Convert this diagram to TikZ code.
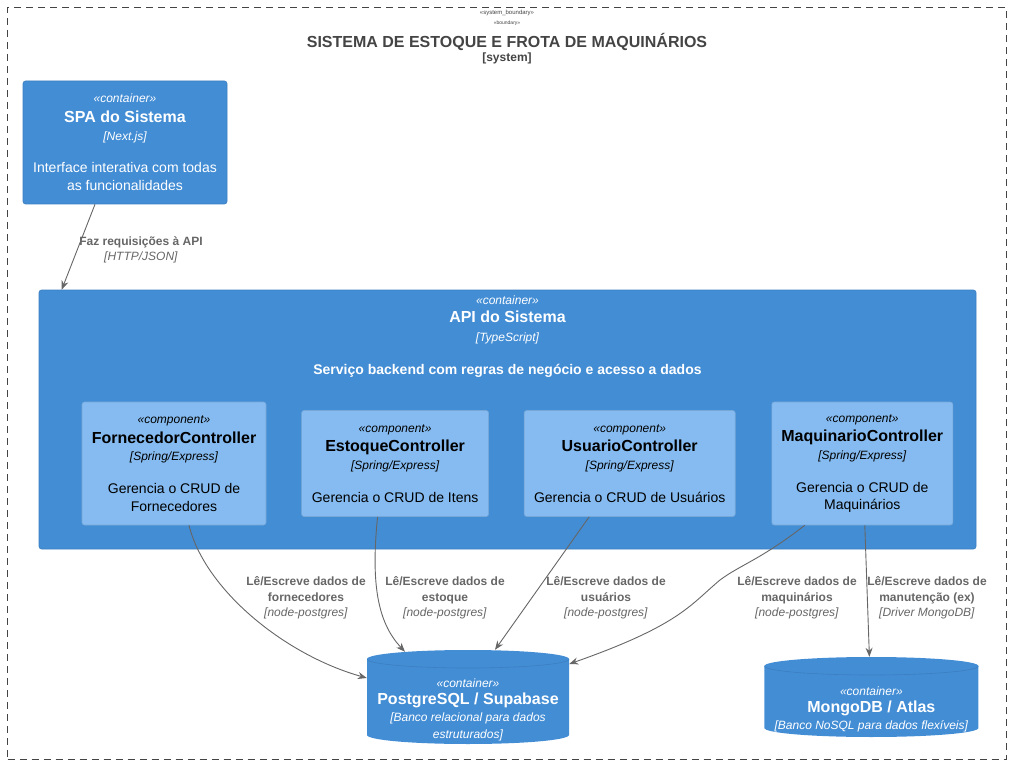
\documentclass[tikz,border=0pt]{standalone}
\usepackage{fontspec}
\setmainfont{Liberation Sans}
\usetikzlibrary{positioning,arrows.meta,calc}

\definecolor{containerblue}{HTML}{438DD5}
\definecolor{containerborder}{HTML}{3C7FC0}
\definecolor{componentblue}{HTML}{85BBF0}
\definecolor{componentborder}{HTML}{78A8D8}
\definecolor{boundarygray}{HTML}{444444}
\definecolor{relgray}{HTML}{666666}

\newcommand{\fs}[2]{\fontsize{#1}{#2}\selectfont}
\newcommand{\stereo}[1]{{\fs{12}{14}\itshape «#1»}}
\newcommand{\techof}[1]{{\fs{12}{14}\itshape [#1]}}
\newcommand{\nameof}[1]{{\fs{16}{18}\bfseries #1}}

\tikzset{
  boundary/.style={rectangle, draw=boundarygray, dash pattern=on 7pt off 5pt,
    line width=0.9pt, minimum width=999, minimum height=751.5},
  systext/.style={text=boundarygray, align=center, font=\fs{12}{10}},
  container/.style={rectangle, rounded corners=2.5pt, fill=containerblue,
    draw=containerborder, line width=0.6pt, text=white, align=center, font=\fs{14}{18}},
  component/.style={rectangle, rounded corners=2.5pt, fill=componentblue,
    draw=componentborder, line width=0.6pt, text=black, align=center, font=\fs{14}{17.5}},
  database/.style={rectangle, inner sep=0pt, path picture={
    \fill[containerblue] let \p1=(path picture bounding box.north west),
      \p2=(path picture bounding box.south east), \n1={(\x2-\x1)/2} in
      (\x1,\y1-9pt) -- (\x1,\y2+9pt)
      arc[start angle=180, end angle=360, x radius=\n1, y radius=9pt]
      -- (\x2,\y1-9pt)
      arc[start angle=0, end angle=180, x radius=\n1, y radius=9pt] -- cycle;
    \draw[containerborder, line width=0.6pt] let \p1=(path picture bounding box.north west),
      \p2=(path picture bounding box.south east), \n1={(\x2-\x1)/2} in
      (\x1,\y1-9pt) arc[start angle=180, end angle=360, x radius=\n1, y radius=9pt];
  }},
  dbtext/.style={text=white, align=center, font=\fs{12}{17}},
  rel/.style={draw=relgray, line width=0.9pt, -{Stealth[length=9pt,width=7pt]}},
  rellabel/.style={text=relgray, align=center, font=\fs{12}{15.5}},
}

\begin{document}
\begin{tikzpicture}[x=1pt, y=-1pt]
  \useasboundingbox (0,0) rectangle (1013,765);

  % system boundary
  \node[boundary] (sys) at (507,383.25) {};
  \node[systext, anchor=north] (systitle) at (sys.north)
    {{\fs{6}{7}«system\_boundary»}\\ {\fs{5}{6}«boundary»}\\[6pt]
     {\fs{16}{18}\bfseries SISTEMA DE ESTOQUE E FROTA DE MAQUINÁRIOS}\\[2pt]
     {\bfseries [system]}};

  % containers
  \node[container, minimum width=204, minimum height=123] (spa) at (125,142.5)
    {\stereo{container}\\[2pt] \nameof{SPA do Sistema}\\ \techof{Next.js}\\[14pt]
     Interface interativa com todas\\ as funcionalidades};
  \node[container, minimum width=937, minimum height=259] (api) at (507.5,419.5) {};
  \node[container, draw=none, fill=none, anchor=north, font=\fs{14}{18.5}] (apititle)
    at ([yshift=-2]api.north)
    {\stereo{container}\\ \nameof{API do Sistema}\\ \techof{TypeScript}\\[14.5pt]
     \textbf{Serviço backend com regras de negócio e acesso a dados}};

  % components
  \node[component, minimum width=184, minimum height=123] (forn) at (174,463.5)
    {\stereo{component}\\[2pt] \nameof{FornecedorController}\\ \techof{Spring/Express}\\[15.5pt]
     Gerencia o CRUD de\\ Fornecedores};
  \node[component, minimum width=187, minimum height=106, right=35pt of forn] (est)
    {\stereo{component}\\[2pt] \nameof{EstoqueController}\\ \techof{Spring/Express}\\[15.5pt]
     Gerencia o CRUD de Itens};
  \node[component, minimum width=211, minimum height=106, right=35pt of est] (usu)
    {\stereo{component}\\[2pt] \nameof{UsuarioController}\\ \techof{Spring/Express}\\[15.5pt]
     Gerencia o CRUD de Usuários};
  \node[component, minimum width=181, minimum height=123, right=36pt of usu] (maq)
    {\stereo{component}\\[2pt] \nameof{MaquinarioController}\\ \techof{Spring/Express}\\[15.5pt]
     Gerencia o CRUD de\\ Maquinários};

  % databases
  \node[database, minimum width=202, minimum height=94] (pg) at (468,697) {};
  \node[dbtext] (pgtext) at ([yshift=-13]pg.center)
    {\stereo{container}\\ \nameof{PostgreSQL / Supabase}\\
     \textit{[Banco relacional para dados}\\ \textit{estruturados]}};
  \node[database, minimum width=214, minimum height=80, right=195pt of pg] (mongo) {};
  \node[dbtext] (mongotext) at ([yshift=-12]mongo.center)
    {\stereo{container}\\ \nameof{MongoDB / Atlas}\\
     \textit{[Banco NoSQL para dados flexíveis]}};

  % relations
  \draw[rel] ([xshift=-30]spa.south) -- ([xshift=23]api.north west);
  \node[rellabel] (lspa) at (141,250)
    {\textbf{Faz requisições à API}\\ \textit{[HTTP/JSON]}};

  \draw[rel] ([xshift=15]forn.south) .. controls (205,590) and (285,655) .. ([yshift=19]pg.west);
  \node[rellabel] (lforn) at (306,598)
    {\textbf{Lê/Escreve dados de}\\ \textbf{fornecedores}\\ \textit{[node-postgres]}};

  \draw[rel] ([xshift=-17.5]est.south) .. controls (370,590) and (380,625) .. ([xshift=-63,yshift=-2]pg.north);
  \node[rellabel] (lest) at (445,598)
    {\textbf{Lê/Escreve dados de}\\ \textbf{estoque}\\ \textit{[node-postgres]}};

  \draw[rel] ([xshift=-40.5]usu.south) -- ([xshift=27]pg.north);
  \node[rellabel] (lusu) at (606,598)
    {\textbf{Lê/Escreve dados de}\\ \textbf{usuários}\\ \textit{[node-postgres]}};

  \draw[rel] ([xshift=-57.5]maq.south) .. controls (760,560) and (740,565) .. (720,580)
    .. controls (690,605) and (680,625) .. ([yshift=33]pg.east);
  \node[rellabel] (lmaq) at (797,598)
    {\textbf{Lê/Escreve dados de}\\ \textbf{maquinários}\\ \textit{[node-postgres]}};

  \draw[rel] ([xshift=2.5]maq.south) -- ([xshift=-2]mongo.north);
  \node[rellabel] (lmongo) at (927,598)
    {\textbf{Lê/Escreve dados de}\\ \textbf{manutenção (ex)}\\ \textit{[Driver MongoDB]}};
\end{tikzpicture}
\end{document}
